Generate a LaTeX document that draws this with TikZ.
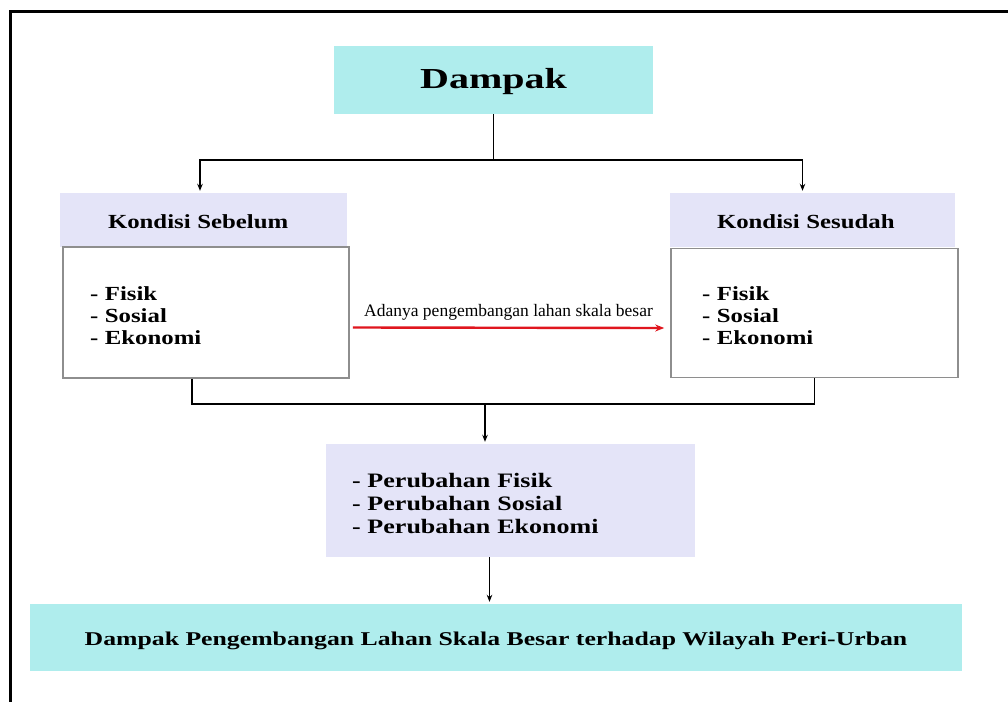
\documentclass[tikz,border=0pt]{standalone}
\usepackage{fontspec}
\setmainfont{Liberation Serif}
\newfontfamily\boxfont{Liberation Serif}[FakeStretch=1.24]
\newfontfamily\midfont{Liberation Serif}[FakeStretch=1.27]
\newfontfamily\resultfont{Liberation Serif}[FakeStretch=1.32]
\newfontfamily\titlefont{Liberation Serif}[FakeStretch=1.38]
\usetikzlibrary{arrows.meta,calc}
\definecolor{cyanbox}{HTML}{AFEDED}
\definecolor{lavbox}{HTML}{E4E4F8}
\definecolor{framegray}{HTML}{8E8E8E}
\definecolor{arrowred}{HTML}{E0161E}
% lower the ink of a text block without changing its box
\newcommand{\inklower}[2]{\raisebox{-#1}[\height][\depth]{#2}}
\tikzset{
  conn/.style={draw=black, line width=1.6pt},
  arr/.style={conn, -{Stealth[length=7pt,width=5.5pt]}, shorten >=2pt},
  cyanbox/.style={fill=cyanbox, inner sep=0pt, anchor=center},
  header/.style={fill=lavbox, inner sep=0pt, anchor=center, align=left,
    font=\boxfont\bfseries\fontsize{20}{22}\selectfont},
  listbox/.style={draw=framegray, line width=1.6pt, fill=white, anchor=center, align=left,
    inner ysep=0pt, font=\boxfont\bfseries\fontsize{20}{22}\selectfont},
}
\begin{document}
\begin{tikzpicture}[x=1pt,y=-1pt]
  \useasboundingbox (0,0) rectangle (1008,701);
  \fill[white] (0,0) rectangle (1008,701);
  % page frame
  \begin{scope}
    \clip (0,0) rectangle (1008,701);
    \draw[line width=3pt] (10.5,720) -- (10.5,12) -- (1020,12);
  \end{scope}

  % top box
  \node[cyanbox, minimum width=319pt, minimum height=68pt,
        font=\titlefont\bfseries\fontsize{29}{31}\selectfont] (dampak) at (493.5,80)
        {\inklower{2pt}{Dampak}};

  % before / after headers
  \node[header, minimum width=287pt, minimum height=54pt, text width=191pt, inner xsep=48pt]
    (hdrL) at (203.5,220) {\inklower{2pt}{Kondisi Sebelum}};
  \node[header, minimum width=285pt, minimum height=54pt, text width=191pt, inner xsep=47pt]
    (hdrR) at (812.5,220) {\inklower{2pt}{Kondisi Sesudah}};

  % before / after contents
  \node[listbox, minimum width=286pt, minimum height=131pt, text width=232pt, inner xsep=27pt]
    (bodyL) at (206,312.5) {\inklower{3pt}{\parbox{232pt}{- Fisik\\- Sosial\\- Ekonomi}}};
  \node[listbox, minimum width=287pt, minimum height=129pt, text width=225pt, inner xsep=31pt]
    (bodyR) at (814.5,313) {\inklower{3pt}{\parbox{225pt}{- Fisik\\- Sosial\\- Ekonomi}}};

  % changes box
  \node[fill=lavbox, minimum width=369pt, minimum height=113pt, text width=317pt, inner xsep=26pt,
        inner ysep=0pt, align=left, font=\midfont\bfseries\fontsize{20.5}{23}\selectfont]
    (mid) at (510.5,500.5)
    {\inklower{3pt}{\parbox{317pt}{- Perubahan Fisik\\- Perubahan Sosial\\- Perubahan Ekonomi}}};

  % result box
  \node[cyanbox, minimum width=932pt, minimum height=67pt,
        font=\resultfont\bfseries\fontsize{19.5}{21}\selectfont]
    (result) at (496,637.5)
    {\inklower{3pt}{Dampak Pengembangan Lahan Skala Besar terhadap Wilayah Peri-Urban}};

  % split from the top box
  \coordinate (split) at ($(dampak.south)+(0,46)$);
  \draw[conn] (dampak.south) -- (split);
  \draw[arr] (split) -| ([xshift=-3.5pt]hdrL.north);
  \draw[arr] (split) -| ([xshift=-10pt]hdrR.north);

  % development arrow
  \draw[line width=2.4pt, draw=arrowred, -{Stealth[length=9pt,width=7pt]}]
    ([xshift=3pt,yshift=-15pt]bodyL.east) -- node[above=3pt, font=\fontsize{17.5}{19}\selectfont, text=black]
    {Adanya pengembangan lahan skala besar} ([xshift=-6pt,yshift=-15pt]bodyR.west);

  % merge into the changes box
  \coordinate (mergeL) at ($([xshift=-14pt]bodyL.south)+(0,25)$);
  \coordinate (mergeR) at ($(bodyR.south)+(0,25.5)$);
  \coordinate (mergeC) at (mergeL -| {$(mid.north)+(-25.5,0)$});
  \draw[conn] ([xshift=-14pt]bodyL.south) -- (mergeL) -- (mergeR) -- (bodyR.south);
  \draw[arr] (mergeC) -- ([xshift=-25.5pt]mid.north);

  % into the result box
  \draw[arr] ([xshift=-21pt]mid.south) -- ([xshift=-21pt]mid.south |- result.north);
\end{tikzpicture}
\end{document}
